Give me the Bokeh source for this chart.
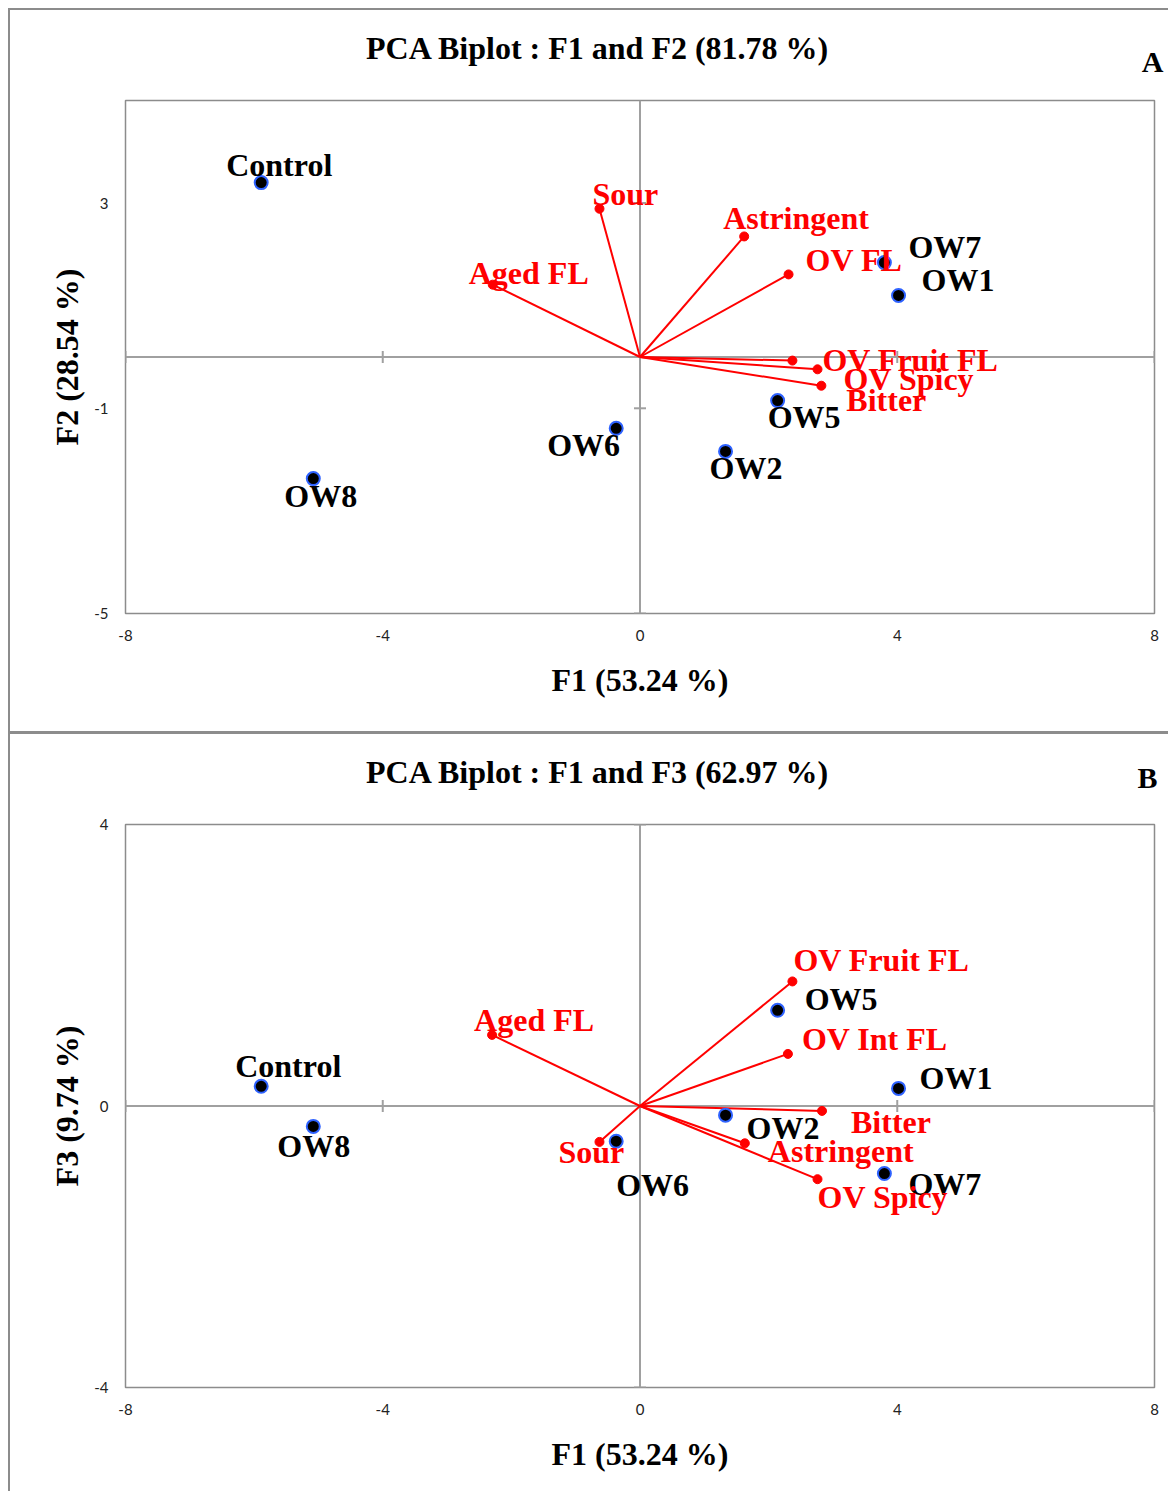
import math
from bokeh.plotting import figure
from bokeh.models import (ColumnDataSource, FixedTicker, Range1d, Span, LinearAxis,
                          NumeralTickFormatter)
from bokeh.layouts import column
from bokeh.core.properties import value
from bokeh.embed import file_html
from bokeh.resources import INLINE

# ---------------- data ----------------
obs_names = ["Control", "OW1", "OW2", "OW5", "OW6", "OW7", "OW8"]
obs_f1 = [-5.89, 4.02, 1.33, 2.14, -0.37, 3.80, -5.08]
obs_f2 = [3.40, 1.20, -1.84, -0.85, -1.39, 1.84, -2.37]
obs_f3 = [0.28, 0.25, -0.13, 1.36, -0.50, -0.96, -0.29]

varA_names = ["Sour", "Astringent", "Aged FL", "OV FL", "OV Fruit FL", "OV Spicy", "Bitter"]
varA_f1 = [-0.63, 1.62, -2.29, 2.31, 2.37, 2.76, 2.82]
varA_f2 = [2.89, 2.35, 1.41, 1.61, -0.07, -0.24, -0.56]

varB_names = ["OV Fruit FL", "OV Int FL", "Aged FL", "Bitter", "Astringent", "OV Spicy", "Sour"]
varB_f1 = [2.37, 2.30, -2.30, 2.83, 1.63, 2.76, -0.63]
varB_f3 = [1.77, 0.74, 1.01, -0.07, -0.53, -1.04, -0.51]

x_ticks = [-8, -4, 0, 4, 8]
yA_ticks = [-5, -1, 3]
yB_ticks = [-4, 0, 4]

titleA = "PCA Biplot : F1 and F2 (81.78 %)"
titleB = "PCA Biplot : F1 and F3 (62.97 %)"

# ---------------- label placement (pixels, layout only) ----------------
obsA_dx = [-35, 23, -16, -10, -69, 24, -29]
obsA_dy = [-18, -15, 17, 16, 17, -16, 17]
obsB_dx = [-26, 21, 21, 27, 0, 24, -36]
obsB_dy = [-20, -10, 13, -11, 44, 10, 20]
varA_dx = [-7, -21, -24, 17, 30, 26, 25]
varA_dy = [-15, -18, -12, -14, -1, 10, 14]
varB_dx = [1, 14, -18, 29, 23, 0, -41]
varB_dy = [-21, -15, -15, 11, 8, 18, 10]

SERIF = "Liberation Serif"
TICKFONT = "Lato"
GRAY = "#8c8c8c"
AXGRAY = "#a0a0a0"
RED = "#ff0000"
BLUE = "#2e62ff"

FRAME_W = 1029
X_PX_PER_UNIT = FRAME_W / 16.0


def text_axis(p, xpos, text, size, standoff):
    """A label-only axis above the frame, used to place a heading text."""
    ax = LinearAxis(ticker=FixedTicker(ticks=[xpos]),
                    major_label_overrides={xpos: text},
                    axis_line_color=None, major_tick_in=0, major_tick_out=0,
                    minor_tick_in=0, minor_tick_out=0, major_label_standoff=standoff,
                    major_label_text_font=SERIF, major_label_text_font_style="bold",
                    major_label_text_font_size=size, major_label_text_color="black")
    p.add_layout(ax, "above")


def make_panel(height, ylim, yticks, ylabel, title, letter,
               ox, oy, odx, ody, vnames, vx, vy, vdx, vdy, min_bottom,
               letter_standoff, title_standoff, letter_cx_px):
    p = figure(width=1160, height=height, output_backend="svg", toolbar_location=None,
               x_range=Range1d(-8, 8), y_range=Range1d(*ylim),
               min_border_left=115, min_border_right=16, min_border_top=90,
               min_border_bottom=min_bottom)
    p.xgrid.visible = False
    p.ygrid.visible = False
    p.outline_line_color = GRAY
    p.outline_line_width = 1.5
    p.background_fill_color = "white"
    p.border_fill_color = "white"

    for ax, ticks in ((p.xaxis[0], x_ticks), (p.yaxis[0], yticks)):
        ax.ticker = FixedTicker(ticks=ticks)
        ax.formatter = NumeralTickFormatter(format="0")
        ax.axis_line_color = None
        ax.major_tick_in = 0
        ax.major_tick_out = 0
        ax.minor_tick_in = 0
        ax.minor_tick_out = 0
        ax.major_label_text_font = TICKFONT
        ax.major_label_text_font_size = "15px"
        ax.major_label_text_color = "#222222"
        ax.axis_label_text_font = SERIF
        ax.axis_label_text_font_style = "bold"
        ax.axis_label_text_font_size = "32px"
        ax.axis_label_text_color = "black"
    p.xaxis[0].axis_label = "F1 (53.24 %)"
    p.xaxis[0].major_label_standoff = 16
    p.xaxis[0].axis_label_standoff = 18
    p.yaxis[0].axis_label = ylabel
    p.yaxis[0].major_label_standoff = 17
    p.yaxis[0].axis_label_standoff = 6

    # crosshair through the origin, with its tick marks
    p.add_layout(Span(location=0, dimension="width", line_color=AXGRAY, line_width=2,
                      level="underlay"))
    p.add_layout(Span(location=0, dimension="height", line_color=AXGRAY, line_width=2,
                      level="underlay"))
    p.scatter(x=x_ticks, y=[0] * len(x_ticks), marker="dash", angle=math.pi / 2, size=12,
              line_color=AXGRAY, line_width=2)
    p.scatter(x=[0] * len(yticks), y=yticks, marker="dash", size=12,
              line_color=AXGRAY, line_width=2)

    vsrc = ColumnDataSource(dict(name=vnames, x=vx, y=vy, x0=[0] * len(vx), y0=[0] * len(vy),
                                 dx=vdx, dy=vdy))
    osrc = ColumnDataSource(dict(name=obs_names, x=ox, y=oy, dx=odx, dy=ody))

    p.segment(x0="x0", y0="y0", x1="x", y1="y", source=vsrc, line_color=RED, line_width=2)
    p.scatter(x="x", y="y", source=vsrc, size=9, fill_color=RED, line_color=RED, line_width=1)
    p.scatter(x="x", y="y", source=osrc, size=13, fill_color="black", line_color=BLUE,
              line_width=2)

    p.text(x="x", y="y", text="name", source=osrc, x_offset="dx", y_offset="dy",
           text_font=value(SERIF), text_font_style="bold", text_font_size="32px",
           text_color="black", text_align="left", text_baseline="middle")
    p.text(x="x", y="y", text="name", source=vsrc, x_offset="dx", y_offset="dy",
           text_font=value(SERIF), text_font_style="bold", text_font_size="32px",
           text_color=RED, text_align="left", text_baseline="middle")

    # panel letter (nearest the frame), then the heading stacked above it
    text_axis(p, round(letter_cx_px / X_PX_PER_UNIT, 3), letter, "30px", letter_standoff)
    text_axis(p, round((597.5 - 639.5) / X_PX_PER_UNIT, 3), title, "32px", title_standoff)
    return p


pA = make_panel(723, (-5, 5), yA_ticks, "F2 (28.54 %)", titleA,
                "A", obs_f1, obs_f2, obsA_dx, obsA_dy,
                varA_names, varA_f1, varA_f2, varA_dx, varA_dy, 120,
                23, -24, 1152 - 639.5)
pB = make_panel(760, (-4, 4), yB_ticks, "F3 (9.74 %)", titleB,
                "B", obs_f1, obs_f3, obsB_dx, obsB_dy,
                varB_names, varB_f1, varB_f3, varB_dx, varB_dy, 107,
                31, -32, 1147 - 639.5)

pA.styles = {"border-top": "2px solid " + GRAY, "border-left": "2px solid " + GRAY}
pB.styles = {"border-top": "3px solid " + GRAY, "border-left": "2px solid " + GRAY}

layout = column(pA, pB, spacing=0, margin=(8, 0, 0, 8))
open("out.html", "w").write(file_html(layout, INLINE))
